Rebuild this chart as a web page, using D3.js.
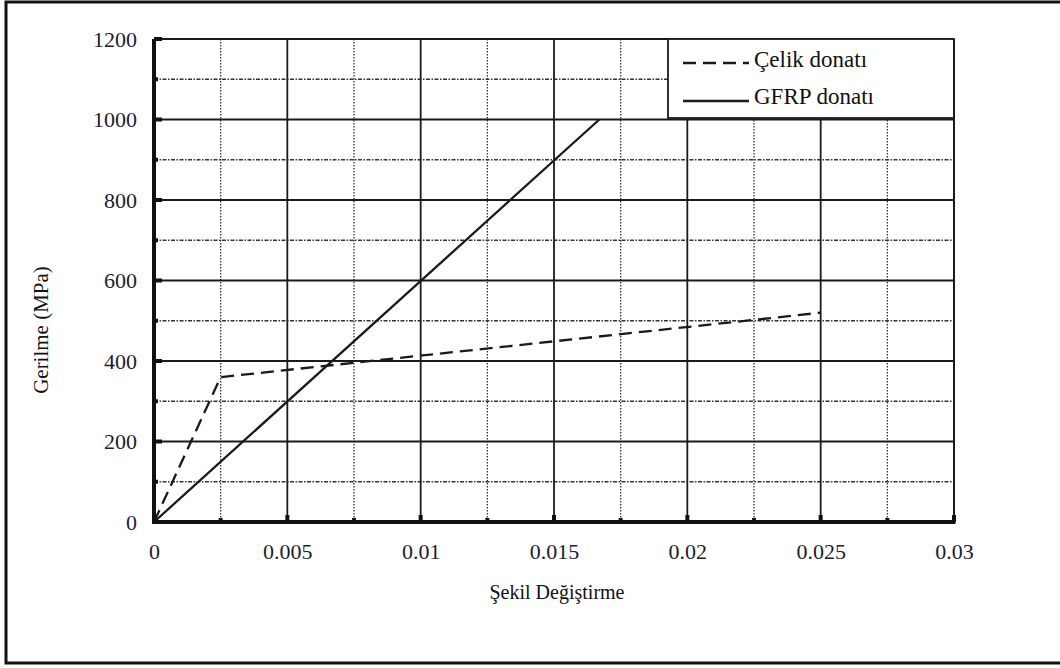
<!DOCTYPE html>
<html><head><meta charset="utf-8">
<script src="https://cdn.jsdelivr.net/npm/d3@7"></script>
<style>body{margin:0;background:#fff}svg{display:block}</style>
</head><body>
<svg id="c" width="1060" height="668"></svg>
<script>
const seriesNames = ["Çelik donatı", "GFRP donatı"];
const steelStrain = [0, 0.0025, 0.025];
const steelStress = [0, 360, 520];
const gfrpStrain = [0, 0.0167];
const gfrpStress = [0, 1000];
const xTicks = [0, 0.005, 0.01, 0.015, 0.02, 0.025, 0.03];
const xTickLabels = ["0", "0.005", "0.01", "0.015", "0.02", "0.025", "0.03"];
const yTicks = [0, 200, 400, 600, 800, 1000, 1200];
const yTickLabels = ["0", "200", "400", "600", "800", "1000", "1200"];
const xMinor = [0.0025, 0.0075, 0.0125, 0.0175, 0.0225, 0.0275];
const yMinor = [100, 300, 500, 700, 900, 1100];
const xTitle = "Şekil Değiştirme";
const yTitle = "Gerilme (MPa)";

const svg = d3.select("#c");
const font = "Liberation Serif, Times New Roman, DejaVu Serif, serif";
const L = 154, R = 954, T = 39, B = 522;
const x = d3.scaleLinear().domain([0, 0.03]).range([L, R]);
const y = d3.scaleLinear().domain([0, 1200]).range([B, T]);

// outer frame
svg.append("rect").attr("x", 6).attr("y", 2).attr("width", 1060).attr("height", 661)
  .attr("fill", "none").attr("stroke", "#111").attr("stroke-width", 3);

const g = svg.append("g");
// minor grid
g.selectAll(".vminor").data(xMinor).join("line")
  .attr("x1", d => x(d)).attr("x2", d => x(d)).attr("y1", T).attr("y2", B)
  .attr("stroke", "#333").attr("stroke-width", 1.3).attr("stroke-dasharray", "1.5,1.5");
g.selectAll(".hminor").data(yMinor).join("line")
  .attr("y1", d => y(d)).attr("y2", d => y(d)).attr("x1", L).attr("x2", R)
  .attr("stroke", "#333").attr("stroke-width", 1.3).attr("stroke-dasharray", "4,1.5,1.5,1.5");
// major grid
g.selectAll(".vmajor").data(xTicks.slice(1)).join("line")
  .attr("x1", d => x(d)).attr("x2", d => x(d)).attr("y1", T).attr("y2", B)
  .attr("stroke", "#1a1a1a").attr("stroke-width", 1.8);
g.selectAll(".hmajor").data(yTicks.slice(1)).join("line")
  .attr("y1", d => y(d)).attr("y2", d => y(d)).attr("x1", L).attr("x2", R)
  .attr("stroke", "#1a1a1a").attr("stroke-width", 1.8);

// legend box
const lg = svg.append("g");
lg.append("rect").attr("x", 668).attr("y", T).attr("width", R - 668).attr("height", 79)
  .attr("fill", "#fff").attr("stroke", "#1a1a1a").attr("stroke-width", 1.8);

// data lines
const line = d3.line().x(d => x(d[0])).y(d => y(d[1]));
const steel = steelStrain.map((s, i) => [s, steelStress[i]]);
const gfrp = gfrpStrain.map((s, i) => [s, gfrpStress[i]]);
g.append("path").attr("d", line(steel)).attr("fill", "none").attr("stroke", "#1a1a1a")
  .attr("stroke-width", 2.3).attr("stroke-dasharray", "13,7");
g.append("path").attr("d", line(gfrp)).attr("fill", "none").attr("stroke", "#1a1a1a")
  .attr("stroke-width", 2.3);

// axes
const xAxis = d3.axisBottom(x).tickValues(xTicks).tickFormat((d, i) => xTickLabels[i]).tickSize(0).tickPadding(21);
const yAxis = d3.axisLeft(y).tickValues(yTicks).tickFormat((d, i) => yTickLabels[i]).tickSize(0).tickPadding(17);
const xa = svg.append("g").attr("transform", `translate(0,${B})`).call(xAxis);
const ya = svg.append("g").attr("transform", `translate(${L},0)`).call(yAxis);
[xa, ya].forEach(a => {
  a.select(".domain").remove();
  a.selectAll("text").style("font-family", font).style("font-size", "22px").attr("fill", "#1c1c30");
});
// axis lines
svg.append("line").attr("x1", L).attr("x2", R + 1.5).attr("y1", B).attr("y2", B).attr("stroke", "#111").attr("stroke-width", 4);
svg.append("line").attr("x1", L).attr("x2", L).attr("y1", T).attr("y2", B + 2).attr("stroke", "#111").attr("stroke-width", 4);
svg.append("line").attr("x1", R).attr("x2", R).attr("y1", T).attr("y2", B).attr("stroke", "#1a1a1a").attr("stroke-width", 2);
// inward tick marks
svg.selectAll(".xt").data(xTicks.slice(1)).join("rect")
  .attr("x", d => x(d) - 2).attr("y", B - 7).attr("width", 4).attr("height", 7).attr("fill", "#111");
svg.selectAll(".xtm").data(xMinor).join("rect")
  .attr("x", d => x(d) - 2).attr("y", B - 4).attr("width", 4).attr("height", 4).attr("fill", "#111");
svg.selectAll(".yt").data(yTicks.slice(1)).join("rect")
  .attr("x", L).attr("y", d => y(d) - 2).attr("width", 8).attr("height", 4).attr("fill", "#111");
svg.selectAll(".ytm").data(yMinor).join("rect")
  .attr("x", L).attr("y", d => y(d) - 2).attr("width", 4).attr("height", 4).attr("fill", "#111");

// titles
svg.append("text").attr("x", 557).attr("y", 599).attr("text-anchor", "middle")
  .style("font-family", font).style("font-size", "20px").attr("fill", "#111").text(xTitle);
svg.append("text").attr("transform", "translate(48,330) rotate(-90)").attr("text-anchor", "middle")
  .style("font-family", font).style("font-size", "21px").attr("fill", "#111").text(yTitle);

// legend entries
const legendY = [63, 101];
const legendTextY = [67, 104];
const legendDash = ["13,7", null];
seriesNames.forEach((n, i) => {
  lg.append("line").attr("x1", 683).attr("x2", 749).attr("y1", legendY[i]).attr("y2", legendY[i])
    .attr("stroke", "#1a1a1a").attr("stroke-width", 2.3).attr("stroke-dasharray", legendDash[i]);
  lg.append("text").attr("x", 754).attr("y", legendTextY[i]).style("font-family", font)
    .style("font-size", "23px").attr("fill", "#111").text(n);
});
</script>
</body></html>
